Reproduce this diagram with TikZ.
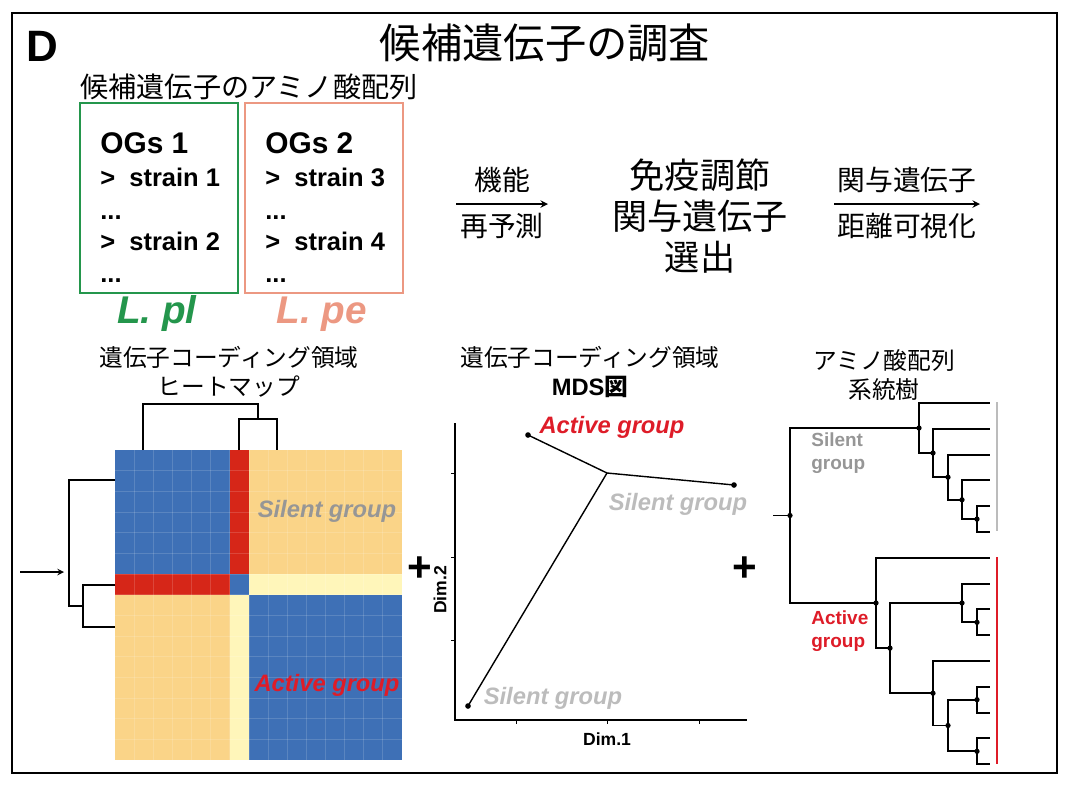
\documentclass[tikz,border=0pt]{standalone}
\usepackage{fontspec}
\setmainfont{Liberation Sans}
\newfontfamily\jp{Noto Sans CJK JP}

\definecolor{hmblue}{RGB}{62,112,182}
\definecolor{hmred}{RGB}{214,38,24}
\definecolor{hmorange}{RGB}{250,212,136}
\definecolor{hmpale}{RGB}{255,246,186}
\definecolor{plgreen}{RGB}{36,150,76}
\definecolor{pesalmon}{RGB}{236,152,130}
\definecolor{silentgray}{RGB}{150,150,150}
\definecolor{silentlight}{RGB}{188,188,188}
\definecolor{activered}{RGB}{222,28,40}

\tikzset{
  ->/.style={draw=black,line width=0.9pt,-stealth},
  titletext/.style={font=\jp\fontsize{23.5}{26}\selectfont},
  subtext/.style={font=\jp\fontsize{16}{18}\selectfont},
  flowtext/.style={font=\jp\fontsize{15.8}{18}\selectfont},
  midtext/.style={font=\jp\fontsize{20}{23.5}\selectfont,align=center},
  captext/.style={font=\jp\fontsize{13.5}{16.5}\selectfont,align=center},
  ogs/.style={font=\bfseries\fontsize{17}{18}\selectfont,anchor=west},
  strain/.style={font=\bfseries\fontsize{14.5}{16}\selectfont,anchor=west},
  species/.style={font=\bfseries\itshape\fontsize{22}{24}\selectfont},
  grp/.style={font=\bfseries\itshape\fontsize{13.5}{16}\selectfont},
  leg/.style={font=\bfseries\fontsize{10.8}{13}\selectfont,align=left,anchor=west},
  dimtext/.style={font=\bfseries\fontsize{10}{12}\selectfont},
  plus/.style={font=\bfseries\fontsize{24}{24}\selectfont},
  dendro/.style={line width=0.7pt},
  tree/.style={line width=1.1pt},
  mds/.style={line width=0.8pt}
}
\tikzstyle{every node}=[inner sep=0pt]

\begin{document}
\begin{tikzpicture}[x=0.02cm,y=-0.02cm]
    \useasboundingbox (0,0) rectangle (1069,785);
    \draw[line width=1.4pt] (12,13) rectangle (1057,773);

    \node[font=\bfseries\fontsize{25}{25}\selectfont] (D) at (42,46) {D};
    \node[titletext] (title) at (545,43) {候補遺伝子の調査};
    \node[subtext] (seq) at (249,87) {候補遺伝子のアミノ酸配列};

    % sequence boxes
    \draw[plgreen,line width=1.1pt] (80,103) rectangle (238,293);
    \draw[pesalmon,line width=1.1pt] (245,103) rectangle (403,293);
    \node[ogs] (og1) at (100,143) {OGs 1};
    \node[strain] (s1) at (100,177) {>\ \ strain 1};
    \node[strain] (d1) at (100,218) {...};
    \node[strain] (s2) at (100,241) {>\ \ strain 2};
    \node[strain] (d2) at (100,281) {...};
    \node[ogs] (og2) at (265,143) {OGs 2};
    \node[strain] (s3) at (265,177) {>\ \ strain 3};
    \node[strain] (d3) at (265,218) {...};
    \node[strain] (s4) at (265,241) {>\ \ strain 4};
    \node[strain] (d4) at (265,281) {...};
    \node[species,text=plgreen] (lpl) at (157,314) {L. pl};
    \node[species,text=pesalmon] (lpe) at (322,314) {L. pe};

    % flow
    \coordinate (f1a) at (456,204);
    \coordinate (f1b) at (548,204);
    \coordinate (f2a) at (834,204);
    \coordinate (f2b) at (980,204);
    \node[midtext] (sel) at (700,216) {免疫調節\\関与遺伝子\\選出};
    \draw [->] (f1a) -- node[flowtext,above=6pt] {機能} node[flowtext,below=5pt] {再予測} (f1b);
    \draw [->] (f2a) -- node[flowtext,above=6pt] {関与遺伝子} node[flowtext,below=5pt] {距離可視化} (f2b);

    \node[captext] (hmcap) at (229,372) {遺伝子コーディング領域\\ヒートマップ};
    \node[captext] (mdscap) at (590,372) {遺伝子コーディング領域\\{\bfseries\rmfamily MDS\jp 図}};
    \node[captext] (trcap) at (884,375) {アミノ酸配列\\系統樹};

    % heatmap
    \foreach \xa/\xb/\ya/\yb/\c in {115/230/450/574/hmblue, 230/249/450/574/hmred,
        249/402/450/574/hmorange, 115/230/574/595/hmred, 230/249/574/595/hmblue,
        249/402/574/595/hmpale, 115/230/595/760/hmorange, 230/249/595/760/hmpale,
        249/402/595/760/hmblue}
      \fill[\c] (\xa,\ya) rectangle (\xb,\yb);
    \foreach \i in {1,...,14} {
      \draw[white,opacity=0.15,line width=0.4pt] ({115+\i*19.13},450) -- ++(0,310);
      \draw[white,opacity=0.15,line width=0.4pt] (115,{450+\i*20.67}) -- ++(287,0);
    }
    \node[grp,text=silentgray] (hmsil) at (327,511) {Silent group};
    \node[grp,text=activered] (hmact) at (327,685) {Active group};

    \coordinate (ht1) at (143,450);
    \coordinate (ht2) at (239,450);
    \coordinate (ht3) at (277,450);
    \coordinate (hn2) at (258,419);
    \coordinate (hn1) at (200,404);
    \draw[dendro] (ht2) |- (hn2) -| (ht3);
    \draw[dendro] (ht1) |- (hn1) -| (hn2);
    \coordinate (hl1) at (115,480);
    \coordinate (hl2) at (115,585);
    \coordinate (hl3) at (115,627);
    \coordinate (hm2) at (83,606);
    \coordinate (hm1) at (69,543);
    \draw[dendro] (hl2) -| (hm2) |- (hl3);
    \draw[dendro] (hl1) -| (hm1) |- (hm2);
    \coordinate (inp) at (20,572);
    \coordinate (hin) at (64,572);
    \draw[dendro,-stealth] (inp) -- (hin);

    \node[plus] (plus1) at (420,569) {+};
    \node[plus] (plus2) at (745,569) {+};

    % MDS
    \coordinate (yax) at (455,423);
    \coordinate (org) at (455,720);
    \coordinate (xax) at (747,720);
    \draw[line width=0.7pt] (yax) -- (org) -- (xax);
    \foreach \t in {516,607,699} \draw[line width=0.4pt] (\t,720) -- ++(0,4);
    \foreach \t in {473,557,640} \draw[line width=0.4pt] (455,\t) -- ++(-4,0);
    \node[dimtext,rotate=90] (dim2) at (440,590) {Dim.2};
    \node[dimtext] (dim1) at (607,739) {Dim.1};
    \coordinate (pA) at (528,435);
    \coordinate (pJ) at (607,473);
    \coordinate (pB) at (734,485);
    \coordinate (pC) at (468,706);
    \draw[mds] (pA) -- (pJ) -- (pB);
    \draw[mds] (pJ) -- (pC);
    \foreach \p in {pA,pB,pC} \fill (\p) circle (1.6pt);
    \node[grp,text=activered] (mdsact) at (612,427) {Active group};
    \node[grp,text=silentlight] (mdssil1) at (678,504) {Silent group};
    \node[grp,text=silentlight] (mdssil2) at (553,698) {Silent group};

    % tree
    \foreach \k in {0,...,14} \coordinate (L\k) at (990,{403+25.8*\k});
    \coordinate (r) at (790,515.5);
    \coordinate (rt) at (773,515.5);
    \coordinate (n1) at (919,428);
    \coordinate (n2) at (933,453);
    \coordinate (n3) at (948,477.2);
    \coordinate (n4) at (962,499.8);
    \coordinate (n5) at (977,519.1);
    \coordinate (m1) at (876,603);
    \coordinate (m2) at (890,648.1);
    \coordinate (m3) at (962,603);
    \coordinate (m4) at (977,622.3);
    \coordinate (m5) at (933,693.2);
    \coordinate (m6) at (948,725.5);
    \coordinate (m7) at (977,699.7);
    \coordinate (m8) at (977,751.3);
    \draw[tree] (rt) -- (r);
    \foreach \p/\c in {r/n1,r/m1,n1/L0,n1/n2,n2/L1,n2/n3,n3/L2,n3/n4,n4/L3,n4/n5,n5/L4,n5/L5,
        m1/L6,m1/m2,m2/m3,m2/m5,m3/L7,m3/m4,m4/L8,m4/L9,m5/L10,m5/m6,m6/m7,m6/m8,
        m7/L11,m7/L12,m8/L13,m8/L14}
      \draw[tree] (\p) |- (\c);
    \foreach \n in {r,n1,n2,n3,n4,n5,m1,m2,m3,m4,m5,m6,m7,m8} \fill (\n) circle (1.5pt);
    \coordinate (gb1) at (997,402);
    \coordinate (gb2) at (997,531);
    \coordinate (rb1) at (997,557);
    \coordinate (rb2) at (997,764);
    \draw[silentlight,line width=1.2pt] (gb1) -- (gb2);
    \draw[activered,line width=1.2pt] (rb1) -- (rb2);
    \node[leg,text=silentgray] (trsil) at (811,453) {Silent\\group};
    \node[leg,text=activered] (tract) at (811,631) {Active\\group};
\end{tikzpicture}
\end{document}
